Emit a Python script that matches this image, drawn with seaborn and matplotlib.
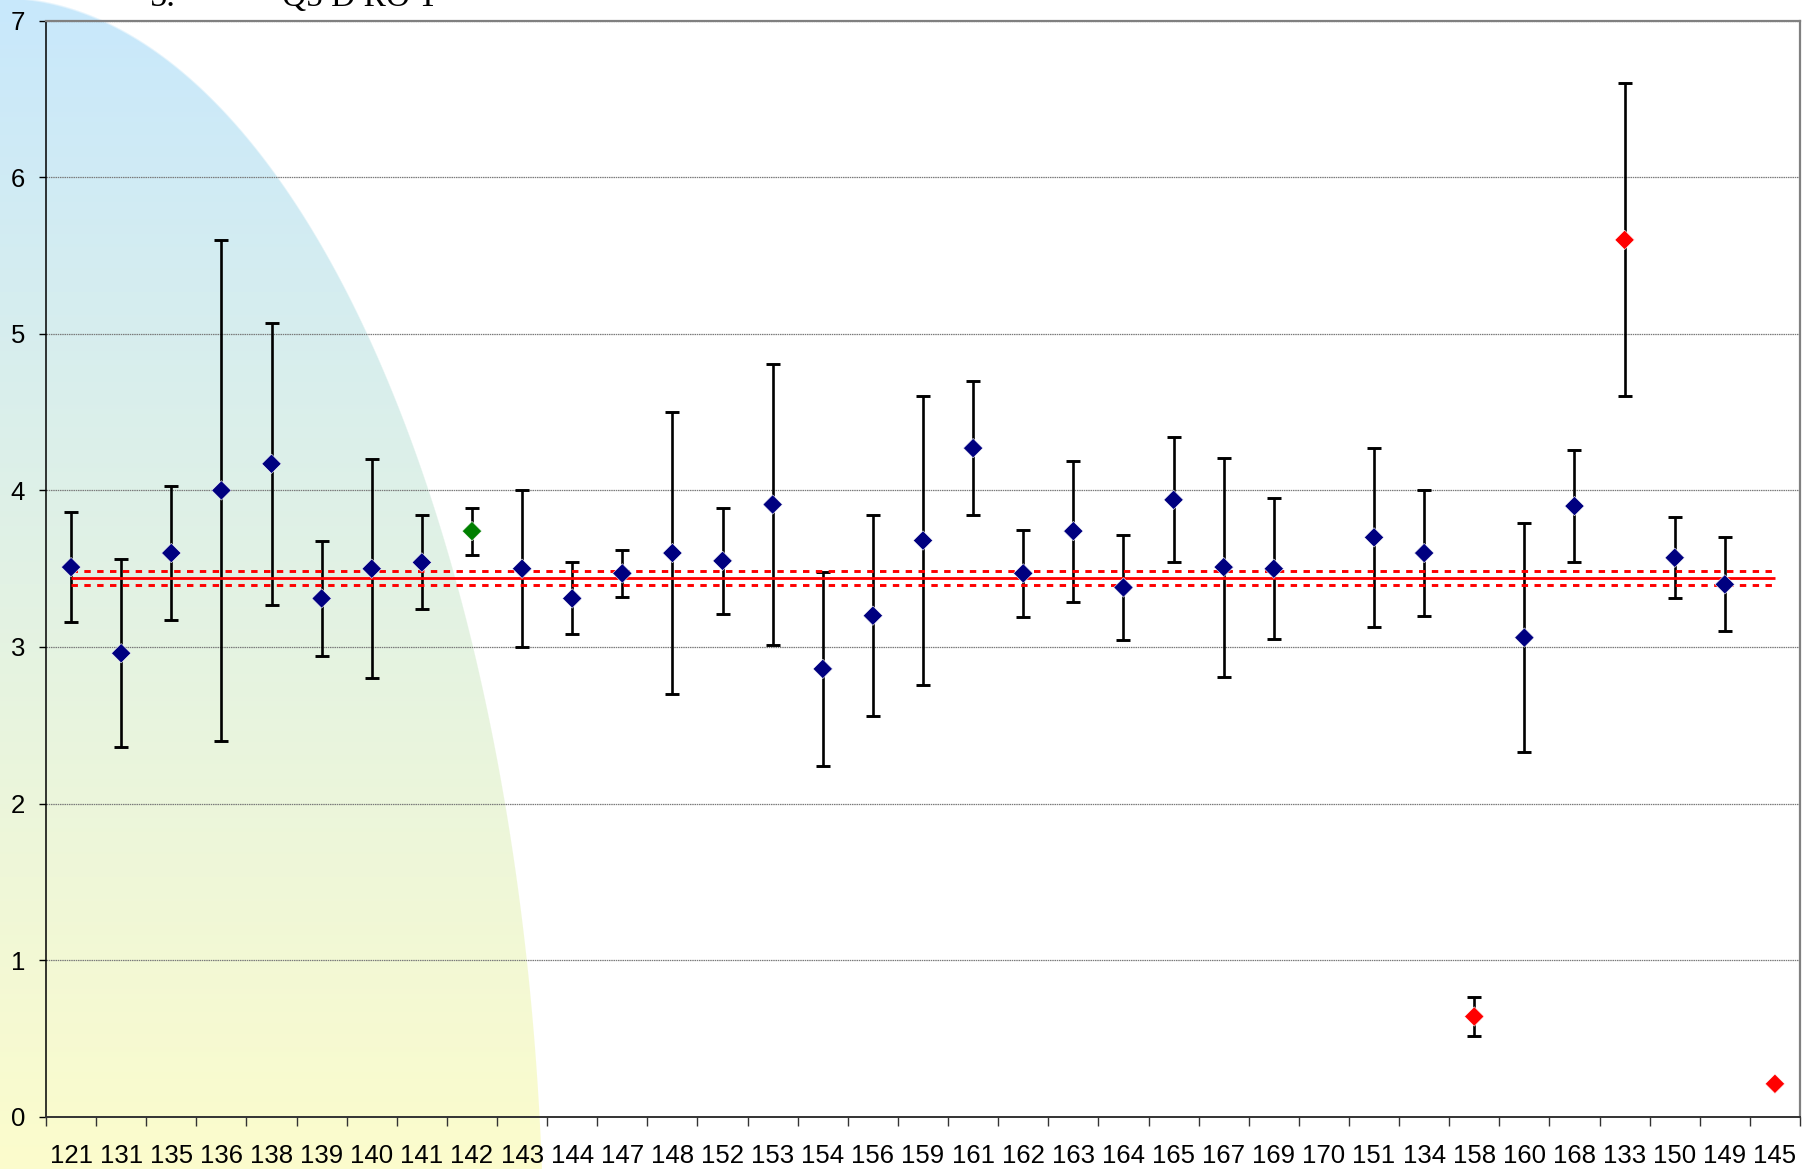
import numpy as np
import pandas as pd
import matplotlib
matplotlib.use("Agg")
import matplotlib.pyplot as plt
import seaborn as sns

# ---- data -------------------------------------------------------------
labs = ["121", "131", "135", "136", "138", "139", "140", "141", "142", "143",
        "144", "147", "148", "152", "153", "154", "156", "159", "161", "162",
        "163", "164", "165", "167", "169", "170", "151", "134", "158", "160",
        "168", "133", "150", "149", "145"]
means = [3.51, 2.96, 3.60, 4.00, 4.17, 3.31, 3.50, 3.54, 3.74, 3.50,
         3.31, 3.47, 3.60, 3.55, 3.91, 2.86, 3.20, 3.68, 4.27, 3.47,
         3.74, 3.38, 3.94, 3.51, 3.50, np.nan, 3.70, 3.60, 0.64, 3.06,
         3.90, 5.60, 3.57, 3.40, 0.21]
errs = [0.35, 0.60, 0.43, 1.60, 0.90, 0.37, 0.70, 0.30, 0.15, 0.50,
        0.23, 0.15, 0.90, 0.34, 0.90, 0.62, 0.64, 0.92, 0.43, 0.28,
        0.45, 0.335, 0.40, 0.70, 0.45, np.nan, 0.57, 0.40, 0.126, 0.73,
        0.36, 1.00, 0.26, 0.30, np.nan]
groups = ["n"] * 8 + ["g"] + ["n"] * 19 + ["r"] + ["n"] * 2 + ["r"] + ["n"] * 2 + ["r"]
group_colors = {"n": "#000080", "g": "#008000", "r": "#ff0000"}

ref_mean = 3.44
ref_band = [3.395, 3.485]

# ---- figure -----------------------------------------------------------
sns.set_theme(style="white")
plt.rcParams["font.family"] = ["Liberation Sans", "DejaVu Sans"]

W, H = 1802, 1169
fig = plt.figure(figsize=(W / 100, H / 100), dpi=100, facecolor="white")

# decorative gradient ellipse behind the plot
bg = fig.add_axes([0, 0, 1, 1], zorder=0)
bg.set_axis_off()
yy, xx = np.mgrid[0:H, 0:W] + 0.5
a_ax, b_ax, cy = 544.0, 1282.0, 1280.0
r = np.sqrt((xx / a_ax) ** 2 + ((yy - cy) / b_ax) ** 2)
alpha = np.clip((1.0 - r) * 520 + 0.5, 0, 1)
t = (yy / H)[..., None]
top_c = np.array([200, 232, 252]) / 255.0
bot_c = np.array([252, 252, 204]) / 255.0
rgb = top_c * (1 - t) + bot_c * t
img = np.dstack([rgb, alpha])
bg.imshow(img, extent=[0, W, H, 0], aspect="auto", interpolation="bilinear")
bg.set_xlim(0, W)
bg.set_ylim(H, 0)

# title strip at the very top edge
fig.text(150 / W, 1 - 6 / H, "5.", family="Liberation Serif", fontsize=25,
         va="baseline", ha="left", color="black")
fig.text(282 / W, 1 - 6 / H, "Q5 D RO T", family="Liberation Serif", fontsize=24,
         va="baseline", ha="left", color="black")

x0, x1 = 46, 1800
y_top, y_bot = 20.7, 1116.7
ax = fig.add_axes([x0 / W, 1 - y_bot / H, (x1 - x0) / W, (y_bot - y_top) / H], zorder=1)
ax.patch.set_alpha(0)

n = len(labs)
pos = np.arange(n)
df = pd.DataFrame({"pos": pos, "label": labs, "mean": means, "err": errs, "group": groups})

# error bars
ax.errorbar(df["pos"], df["mean"], yerr=df["err"], fmt="none", ecolor="black",
            elinewidth=1.9, capsize=4.8, capthick=2.1, zorder=3)

# reference mean and its band
ax.hlines(ref_mean, 0, n - 1, colors="#ff0000", linewidth=2.0, zorder=4)
for yb in ref_band:
    ax.hlines(yb, 0, n - 1, colors="#ff0000", linewidth=2.1,
              linestyles=(0, (2.2, 2.2)), zorder=4)

# points
sns.scatterplot(data=df.dropna(subset=["mean"]), x="pos", y="mean", hue="group",
                palette=group_colors, marker="D", s=98, linewidth=0.4,
                legend=False, ax=ax, zorder=5)

ax.set_xlim(-0.5, n - 0.5)
ax.set_ylim(0, 7)
ax.set_xlabel("")
ax.set_ylabel("")

# axes ticks
ax.set_xticks(pos)
ax.set_xticklabels(labs)
ax.set_xticks(np.arange(-0.5, n, 1.0), minor=True)
ax.tick_params(axis="x", which="major", length=0, pad=20, labelsize=18.5, colors="black")
ax.tick_params(axis="x", which="minor", length=6.5, width=1.0, color="#333333",
               direction="out", bottom=True)
ax.set_yticks(range(0, 8))
ax.tick_params(axis="y", which="major", length=5, width=1.0, pad=10, labelsize=18.5,
               colors="black", left=True, direction="out")

# horizontal grid
ax.yaxis.grid(True, color="#7a7a7a", linewidth=0.9, linestyle=(0, (1.2, 0.6)))
ax.xaxis.grid(False)
ax.set_axisbelow(True)

# frame
for side in ("top", "right"):
    ax.spines[side].set_color("#808080")
    ax.spines[side].set_linewidth(1.6)
ax.spines["left"].set_color("black")
ax.spines["left"].set_linewidth(1.1)
ax.spines["bottom"].set_color("#333333")
ax.spines["bottom"].set_linewidth(1.4)

fig.savefig("out.png", dpi=100, facecolor="white")
